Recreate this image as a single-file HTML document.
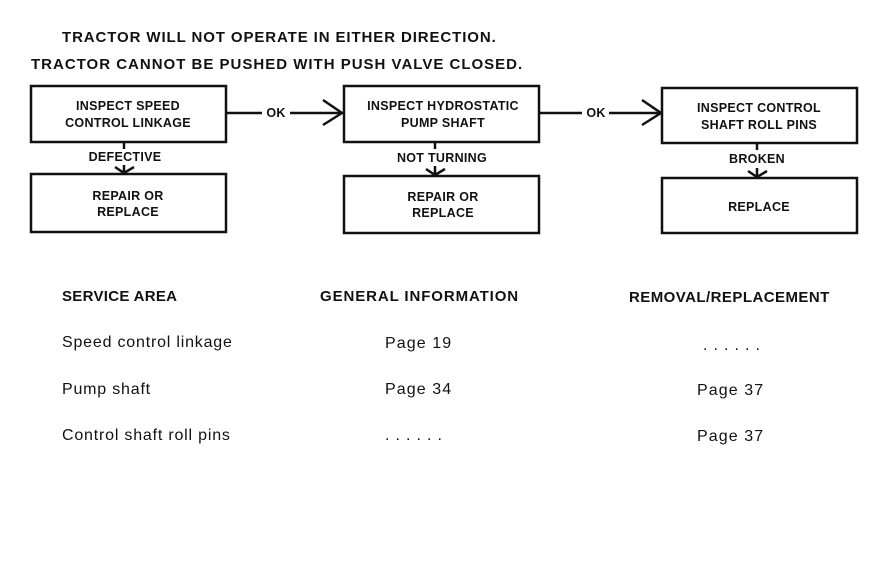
<!DOCTYPE html>
<html><head><meta charset="utf-8"><style>
body{margin:0;background:#fff;}
svg text{font-family:"Liberation Sans",sans-serif;fill:#111;}
</style></head><body>
<svg width="872" height="580" viewBox="0 0 872 580" xmlns="http://www.w3.org/2000/svg">
<rect width="872" height="580" fill="#fff"/>
<g font-weight="bold" font-size="15">
<text x="62" y="42" letter-spacing="0.9">TRACTOR WILL NOT OPERATE IN EITHER DIRECTION.</text>
<text x="31" y="69" letter-spacing="1">TRACTOR CANNOT BE PUSHED WITH PUSH VALVE CLOSED.</text>
</g>
<g fill="none" stroke="#111" stroke-width="2.5">
<rect x="31" y="86" width="195" height="56"/>
<rect x="31" y="174" width="195" height="58"/>
<rect x="344" y="86" width="195" height="56"/>
<rect x="344" y="176" width="195" height="57"/>
<rect x="662" y="88" width="195" height="55"/>
<rect x="662" y="178" width="195" height="55"/>
<line x1="226" y1="113" x2="262" y2="113"/>
<line x1="290" y1="113" x2="341" y2="113"/>
<polyline points="323,100 342,113 323,125"/>
<line x1="539" y1="113" x2="582" y2="113"/>
<line x1="609" y1="113" x2="659" y2="113"/>
<polyline points="642,100 661,113 642,125"/>
<line x1="124" y1="142" x2="124" y2="149"/>
<line x1="124" y1="165" x2="124" y2="173"/>
<polyline points="115,167 124,173 134,167"/>
<line x1="435" y1="142" x2="435" y2="149"/>
<line x1="435" y1="166" x2="435" y2="175"/>
<polyline points="426,169 435,175 445,169"/>
<line x1="757" y1="143" x2="757" y2="150"/>
<line x1="757" y1="168" x2="757" y2="177"/>
<polyline points="748,171 757,177 767,171"/>
</g>
<g font-size="12.5" text-anchor="middle" font-weight="bold" letter-spacing="0.3">
<text x="128" y="110">INSPECT SPEED</text>
<text x="128" y="127">CONTROL LINKAGE</text>
<text x="128" y="200">REPAIR OR</text>
<text x="128" y="216">REPLACE</text>
<text x="443" y="110">INSPECT HYDROSTATIC</text>
<text x="443" y="127">PUMP SHAFT</text>
<text x="443" y="201">REPAIR OR</text>
<text x="443" y="217">REPLACE</text>
<text x="759" y="112">INSPECT CONTROL</text>
<text x="759" y="129">SHAFT ROLL PINS</text>
<text x="759" y="211">REPLACE</text>
<text x="276" y="117">OK</text>
<text x="596" y="117">OK</text>
<text x="125" y="161">DEFECTIVE</text>
<text x="442" y="162">NOT TURNING</text>
<text x="757" y="163">BROKEN</text>
</g>
<g font-size="15" font-weight="bold" letter-spacing="0.9">
<text x="62" y="301" letter-spacing="0.3">SERVICE AREA</text>
<text x="320" y="301">GENERAL INFORMATION</text>
<text x="629" y="302" letter-spacing="0.45">REMOVAL/REPLACEMENT</text>
</g>
<g font-size="16" letter-spacing="0.8">
<text x="62" y="347">Speed control linkage</text>
<text x="62" y="394">Pump shaft</text>
<text x="62" y="440">Control shaft roll pins</text>
<text x="385" y="348" letter-spacing="1.1">Page 19</text>
<text x="385" y="394" letter-spacing="1.1">Page 34</text>
<text x="385" y="440">. . . . . .</text>
<text x="703" y="350">. . . . . .</text>
<text x="697" y="395" letter-spacing="1.1">Page 37</text>
<text x="697" y="441" letter-spacing="1.1">Page 37</text>
</g>
</svg>
</body></html>
